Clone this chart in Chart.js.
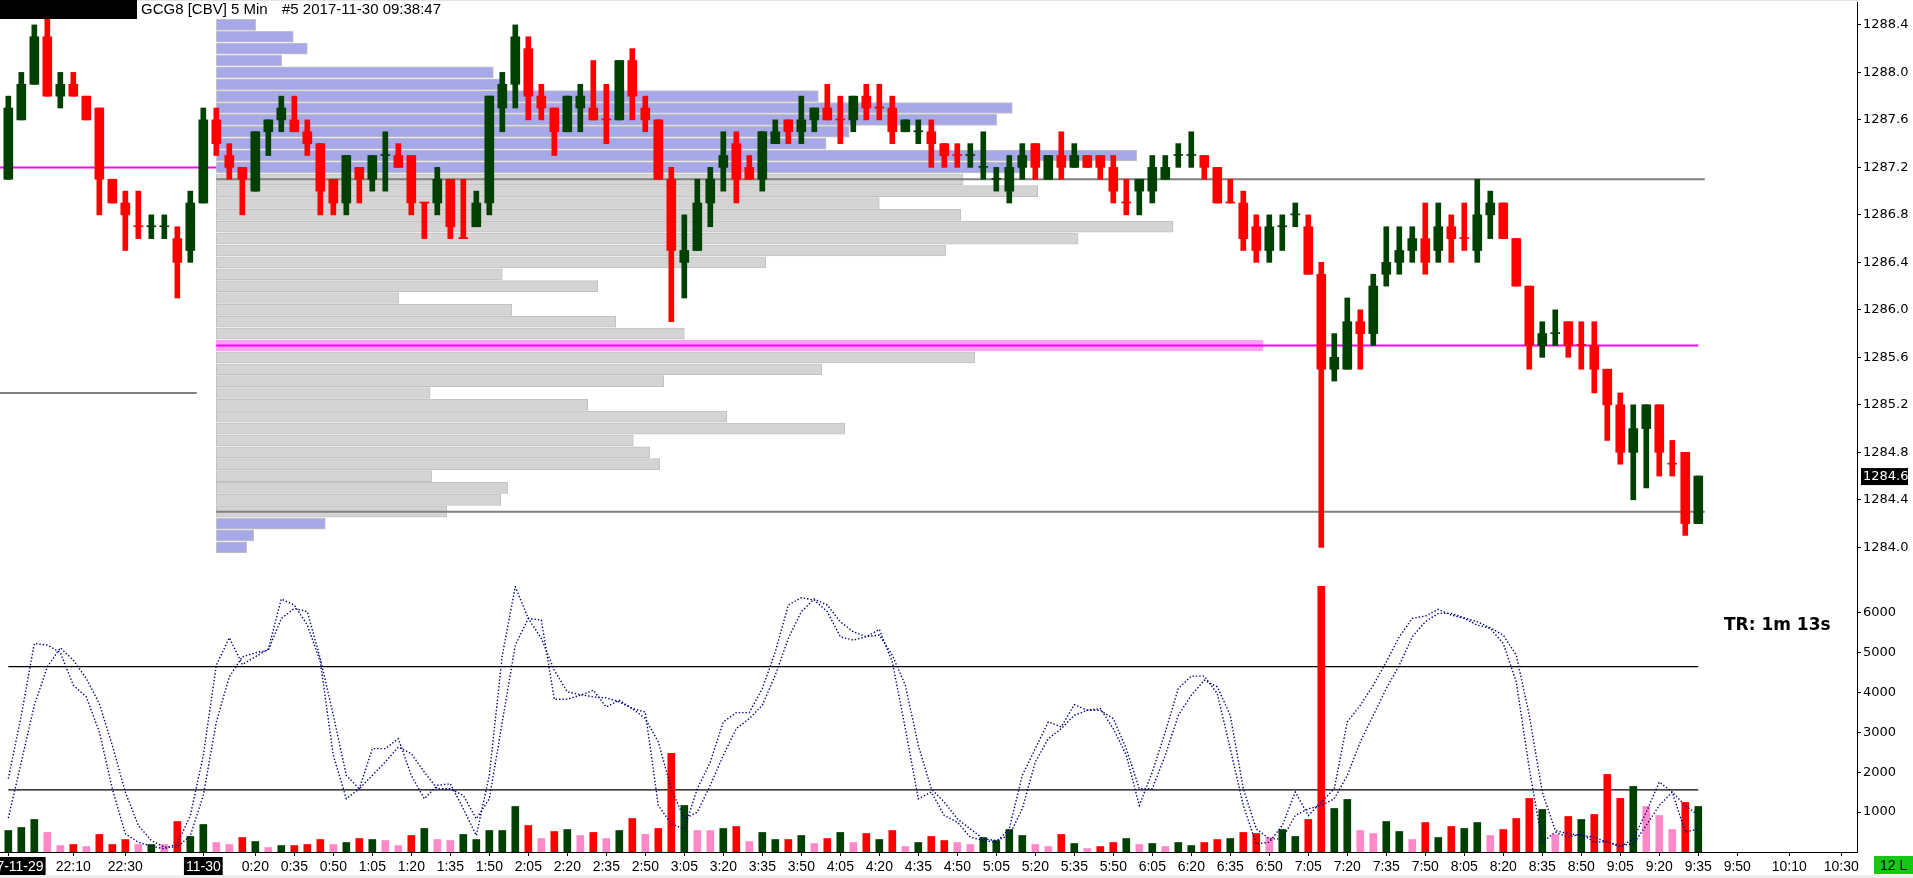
<!DOCTYPE html>
<html>
<head>
<meta charset="utf-8">
<title>GCG8 5 Min</title>
<script src="https://cdn.jsdelivr.net/npm/chart.js@4.4.1/dist/chart.umd.min.js"></script>
<style>
  html, body { margin: 0; padding: 0; background: #fff; }
  #wrap { position: relative; width: 1913px; height: 878px; }
</style>
</head>
<body>
<div id="wrap"><canvas id="gcChart" width="1913" height="878"></canvas></div>
<script>
// 5 minute slots (last session bars + empty slots to the right)
const times = [
  '21:45','21:50','21:55','22:00','22:05','22:10','22:15','22:20','22:25','22:30','22:35','22:40','22:45','22:50','22:55',
  '0:00','0:05','0:10','0:15','0:20','0:25','0:30','0:35','0:40','0:45','0:50','0:55',
  '1:00','1:05','1:10','1:15','1:20','1:25','1:30','1:35','1:40','1:45','1:50','1:55',
  '2:00','2:05','2:10','2:15','2:20','2:25','2:30','2:35','2:40','2:45','2:50','2:55',
  '3:00','3:05','3:10','3:15','3:20','3:25','3:30','3:35','3:40','3:45','3:50','3:55',
  '4:00','4:05','4:10','4:15','4:20','4:25','4:30','4:35','4:40','4:45','4:50','4:55',
  '5:00','5:05','5:10','5:15','5:20','5:25','5:30','5:35','5:40','5:45','5:50','5:55',
  '6:00','6:05','6:10','6:15','6:20','6:25','6:30','6:35','6:40','6:45','6:50','6:55',
  '7:00','7:05','7:10','7:15','7:20','7:25','7:30','7:35','7:40','7:45','7:50','7:55',
  '8:00','8:05','8:10','8:15','8:20','8:25','8:30','8:35','8:40','8:45','8:50','8:55',
  '9:00','9:05','9:10','9:15','9:20','9:25','9:30','9:35','9:40','9:45','9:50','9:55',
  '10:00','10:05','10:10','10:15','10:20','10:25','10:30'
];

const tickLabels = ['21:45','22:10','22:30','0:00','0:20','0:35','0:50','1:05','1:20','1:35','1:50',
  '2:05','2:20','2:35','2:50','3:05','3:20','3:35','3:50','4:05','4:20','4:35','4:50','5:05','5:20',
  '5:35','5:50','6:05','6:20','6:35','6:50','7:05','7:20','7:35','7:50','8:05','8:20','8:35','8:50',
  '9:05','9:20','9:35','9:50','10:10','10:30'];
const dateLabels = { '21:45': '2017-11-29', '0:00': '11-30' };

const priceTicks = [1284.0, 1284.4, 1284.8, 1285.2, 1285.6, 1286.0, 1286.4, 1286.8, 1287.2, 1287.6, 1288.0, 1288.4];
const volTicks = [1000, 2000, 3000, 4000, 5000, 6000];

const open = [
  1287.1,1287.6,1287.9,1288.3,1287.8,1287.9,1287.8,1287.7,1287.1,1286.9,
  1286.7,1286.7,1286.7,1286.6,1286.5,1286.9,1287.6,1287.3,1287.2,1287.0,
  1287.5,1287.6,1287.6,1287.5,1287.4,1287.1,1286.9,1287.2,1287.1,1287.3,
  1287.3,1287.3,1286.9,1286.9,1287.1,1286.6,1286.7,1286.9,1287.7,1287.9,
  1288.2,1287.8,1287.7,1287.5,1287.7,1287.7,1287.6,1287.6,1288.1,1287.7,
  1287.6,1287.1,1286.4,1286.5,1286.9,1287.2,1287.4,1287.2,1287.1,1287.4,
  1287.6,1287.5,1287.6,1287.7,1287.6,1287.6,1287.8,1287.7,1287.7,1287.5,
  1287.5,1287.5,1287.4,1287.3,1287.3,1287.2,1287.1,1287.0,1287.2,1287.4,
  1287.1,1287.3,1287.2,1287.3,1287.3,1287.2,1286.9,1287.0,1287.0,1287.1,
  1287.3,1287.3,1287.3,1287.2,1286.9,1286.9,1286.7,1286.5,1286.7,1286.8,
  1286.7,1286.3,1285.5,1285.5,1285.9,1285.8,1286.3,1286.4,1286.5,1286.6,
  1286.5,1286.7,1286.6,1286.5,1286.8,1286.9,1286.6,1286.2,1285.7,1285.8,
  1285.9,1285.7,1285.7,1285.5,1285.2,1284.8,1285.0,1285.2,1284.7,1284.8,
  1284.2];
const high = [
  1287.8,1288.0,1288.4,1288.5,1288.0,1288.0,1287.8,1287.7,1287.1,1287.0,
  1287.0,1286.8,1286.8,1286.7,1287.0,1287.7,1287.7,1287.4,1287.2,1287.5,
  1287.6,1287.8,1287.8,1287.6,1287.4,1287.1,1287.3,1287.2,1287.3,1287.5,
  1287.4,1287.3,1286.9,1287.2,1287.1,1287.1,1287.0,1287.8,1288.0,1288.4,
  1288.3,1287.9,1287.7,1287.8,1287.9,1288.1,1287.9,1288.1,1288.2,1287.8,
  1287.6,1287.2,1286.8,1287.1,1287.2,1287.5,1287.5,1287.3,1287.5,1287.6,
  1287.6,1287.8,1287.7,1287.9,1287.8,1287.8,1287.9,1287.9,1287.8,1287.6,
  1287.6,1287.6,1287.4,1287.4,1287.4,1287.5,1287.2,1287.3,1287.4,1287.4,
  1287.3,1287.5,1287.4,1287.3,1287.3,1287.3,1287.1,1287.1,1287.3,1287.3,
  1287.4,1287.5,1287.3,1287.2,1287.1,1287.0,1286.8,1286.8,1286.8,1286.9,
  1286.8,1286.4,1285.8,1286.1,1286.0,1286.3,1286.7,1286.7,1286.7,1286.9,
  1286.9,1286.8,1286.9,1287.1,1287.0,1286.9,1286.6,1286.2,1285.9,1286.0,
  1285.9,1285.9,1285.9,1285.5,1285.3,1285.2,1285.2,1285.2,1284.9,1284.8,
  1284.6];
const low = [
  1287.1,1287.6,1287.9,1287.8,1287.7,1287.8,1287.6,1286.8,1286.9,1286.5,
  1286.6,1286.6,1286.6,1286.1,1286.4,1286.9,1287.3,1287.1,1286.8,1287.0,
  1287.3,1287.5,1287.5,1287.3,1286.8,1286.8,1286.8,1286.9,1287.0,1287.0,
  1287.2,1286.8,1286.6,1286.8,1286.6,1286.6,1286.7,1286.8,1287.5,1287.7,
  1287.6,1287.6,1287.3,1287.5,1287.5,1287.6,1287.4,1287.6,1287.6,1287.5,
  1287.1,1285.9,1286.1,1286.5,1286.7,1287.0,1286.9,1287.1,1287.0,1287.4,
  1287.4,1287.4,1287.5,1287.6,1287.4,1287.5,1287.6,1287.6,1287.4,1287.5,
  1287.4,1287.2,1287.2,1287.2,1287.2,1287.1,1287.0,1286.9,1287.1,1287.1,
  1287.1,1287.1,1287.2,1287.2,1287.1,1286.9,1286.8,1286.8,1286.9,1287.1,
  1287.2,1287.2,1287.1,1286.9,1286.9,1286.5,1286.4,1286.4,1286.5,1286.7,
  1286.3,1284.0,1285.4,1285.5,1285.5,1285.7,1286.2,1286.3,1286.4,1286.3,
  1286.4,1286.4,1286.5,1286.4,1286.6,1286.6,1286.2,1285.5,1285.6,1285.7,
  1285.6,1285.5,1285.3,1284.9,1284.7,1284.4,1284.5,1284.6,1284.6,1284.1,
  1284.2];
const close = [
  1287.7,1287.9,1288.3,1287.8,1287.9,1287.8,1287.6,1287.1,1286.9,1286.8,
  1286.7,1286.7,1286.7,1286.4,1286.9,1287.6,1287.4,1287.2,1287.1,1287.5,
  1287.6,1287.7,1287.5,1287.4,1287.0,1286.9,1287.3,1287.1,1287.3,1287.3,
  1287.2,1286.9,1286.9,1287.1,1286.7,1286.6,1286.9,1287.8,1287.9,1288.3,
  1287.8,1287.7,1287.5,1287.8,1287.8,1287.6,1287.6,1288.1,1287.8,1287.6,
  1287.1,1286.5,1286.5,1286.9,1287.1,1287.3,1287.1,1287.1,1287.5,1287.5,
  1287.5,1287.6,1287.7,1287.6,1287.6,1287.8,1287.7,1287.7,1287.5,1287.6,
  1287.5,1287.4,1287.3,1287.3,1287.3,1287.2,1287.1,1287.2,1287.3,1287.2,
  1287.3,1287.2,1287.3,1287.2,1287.2,1287.0,1286.9,1287.1,1287.2,1287.2,
  1287.3,1287.3,1287.2,1286.9,1286.9,1286.6,1286.5,1286.7,1286.7,1286.8,
  1286.3,1285.5,1285.6,1285.9,1285.8,1286.2,1286.4,1286.5,1286.6,1286.4,
  1286.7,1286.6,1286.6,1286.8,1286.9,1286.6,1286.2,1285.7,1285.8,1285.8,
  1285.7,1285.7,1285.5,1285.2,1284.8,1285.0,1285.2,1284.8,1284.7,1284.2,
  1284.6];
// unchanged bars painted in the up colour
const upDoji = ['22:40','22:45','1:10','4:35','4:55','5:00','5:05','6:15','6:20','6:55','7:00','8:40'];

const volume = [
  539,615,816,490,162,188,137,440,188,313,188,188,188,765,389,690,238,188,363,263,
  112,162,162,188,313,188,238,338,313,288,162,414,590,313,288,440,313,539,539,1142,
  665,338,514,564,414,490,338,539,841,440,590,2474,1167,539,539,590,640,263,490,313,
  313,414,213,338,490,238,464,313,539,137,238,389,288,238,188,363,288,564,414,188,
  137,440,213,87,137,238,338,188,213,137,238,162,238,313,338,490,464,363,564,389,
  816,6670,1092,1318,539,464,765,514,313,740,363,640,590,740,414,564,841,1344,1067,440,
  891,816,941,1946,1344,1645,1142,916,564,1243,1142];
// g = up volume, r = down volume, p = light down volume
const volKind = [
  'g','g','g','p','p','r','p','r','r','r','p','g','p','r','g','g','p','p','r','g',
  'p','g','r','r','r','p','g','r','g','p','p','r','g','p','p','g','g','g','g','g',
  'r','p','r','g','p','r','p','g','r','p','r','r','g','p','p','g','r','p','g','g',
  'r','g','p','r','g','p','r','g','r','p','g','r','r','p','p','g','g','g','g','p',
  'p','r','g','p','r','r','g','p','g','p','g','g','r','r','g','r','r','p','g','g',
  'r','r','g','g','p','p','g','g','p','r','g','r','g','g','p','r','r','r','g','p',
  'r','g','r','r','r','g','p','p','p','r','g'];

// oscillator pair drawn in the volume region (same units as the volume scale)
const oscFast = [
  1838,3429,5229,5187,5003,4182,3889,3010,1586,456,246,146,79,204,916,2424,4685,5372,4702,4894,
  5087,6343,6192,5690,4769,2424,1335,1586,2591,2591,2842,1921,1335,1670,1712,1084,414,1921,4936,6653,
  5857,5816,3831,3831,3931,4057,3638,3806,3596,3512,1167,707,581,1586,2256,3261,3496,3496,4099,5020,
  6192,6377,6318,6025,5397,5313,5397,5581,4769,3094,1335,1502,916,749,372,288,246,581,1921,2591,
  3261,3136,3697,3554,3596,3094,2424,1167,2005,3010,4099,4409,4409,3973,2591,1167,204,246,665,1502,
  916,1251,1586,3261,3680,4182,4769,5397,5857,5916,6084,5941,5857,5690,5606,5229,4266,2089,246,497,
  372,456,246,263,121,330,1000,1754,1502,497,581];
const oscSlow = [
  849,2256,3680,4643,5120,4811,4350,3722,2675,1502,665,288,121,121,414,1419,3261,4392,4894,4995,
  5062,5857,6109,6025,4852,3429,1921,1586,1921,2256,2633,2466,2005,1586,1586,1419,832,1335,3261,5187,
  5857,5355,4559,4015,3948,3889,3864,3764,3596,3345,2759,1586,832,1000,1670,2424,3094,3345,3680,4434,
  5355,6025,6343,6192,5774,5522,5397,5439,4936,4182,2675,1586,1251,832,581,330,288,414,1084,2256,
  2842,3094,3429,3554,3554,3345,2591,1586,1586,2424,3429,3931,4308,4141,3429,1586,581,330,330,916,
  1084,1167,1335,1921,2759,3429,4099,4685,5397,5774,5983,5983,5874,5774,5623,5439,4936,3429,1502,539,
  456,414,372,246,163,204,665,1167,1502,1167,916];
const oscLevels = [4650, 1560];

// volume profile of the 11-30 session
const profPrices = [1288.4,1288.3,1288.2,1288.1,1288.0,1287.9,1287.8,1287.7,1287.6,1287.5,1287.4,1287.3,1287.2,
  1287.1,1287.0,1286.9,1286.8,1286.7,1286.6,1286.5,1286.4,1286.3,1286.2,1286.1,1286.0,1285.9,1285.8,1285.7,
  1285.6,1285.5,1285.4,1285.3,1285.2,1285.1,1285.0,1284.9,1284.8,1284.7,1284.6,1284.5,1284.4,1284.3,1284.2,1284.1,1284.0];
const profVol = [197,385,455,327,1385,1420,3010,3980,3902,3165,3049,4602,4020,3734,4107,3315,3722,4784,4309,3647,
  2747,1430,1907,912,1477,1997,2340,5234,3792,3027,2237,1069,1857,2552,3142,2085,2167,2217,1077,1457,1422,1152,545,187,152];
const session = { start: '0:05', poc: 1285.7, vah: 1287.1, val: 1284.3 };
const prevSession = { end: '0:05', valEnd: '22:55', poc: 1287.2, val: 1285.3 };

// ---------------------------------------------------------------
const UP = '#004000', DOWN = '#ff0000', PINK = '#ff88c8';
const nBars = close.length;
const lastBar = nBars - 1;
const X_MIN = -0.64, X_MAX = 142.21;
const startIdx = times.indexOf(session.start);
const PROF_UNITS = 65; // profile contracts per bar slot

const isUp = i => close[i] > open[i] || (close[i] === open[i] && upDoji.includes(times[i]));
const candleColors = close.map((c, i) => isUp(i) ? UP : DOWN);
const bars = close.map((c, i) => i);

const profColors = profPrices.map(p => {
  if (Math.abs(p - session.poc) < 0.001) return '#ffa0f8';
  if (p <= session.vah + 0.001 && p >= session.val - 0.001) return '#d4d4d4';
  return '#a6a8e8';
});
const profBorders = profColors.map(c => c === '#ffa0f8' ? '#ffa0f8' : '#c2c2c2');

const hline = (x0, x1, y) => [{ x: x0, y: y }, { x: x1, y: y }];
const lineDs = (data, color, width, axis, order) => ({
  type: 'line', data: data, yAxisID: axis, xAxisID: 'x',
  borderColor: color, borderWidth: width, pointRadius: 0, fill: false, tension: 0, order: order
});

const datasets = [
  // profile rows (behind everything)
  {
    type: 'bar', indexAxis: 'y', xAxisID: 'xp', yAxisID: 'y',
    data: profPrices.map((p, k) => ({ x: profVol[k], y: p })),
    backgroundColor: profColors, borderColor: profBorders, borderWidth: 1, borderSkipped: false,
    barThickness: 11, grouped: false, order: 20
  },
  lineDs(hline(startIdx, lastBar + 0.5, session.vah), '#808080', 2, 'y', 10),
  lineDs(hline(startIdx, lastBar + 0.5, session.val), '#808080', 2, 'y', 10),
  lineDs(hline(startIdx, lastBar, session.poc), '#ff00ff', 2, 'y', 10),
  lineDs(hline(X_MIN, times.indexOf(prevSession.end), prevSession.poc), '#ff00ff', 2, 'y', 10),
  lineDs(hline(X_MIN, times.indexOf(prevSession.valEnd) + 0.5, prevSession.val), '#808080', 2, 'y', 10),
  // candle wicks and bodies
  {
    type: 'bar', xAxisID: 'x', yAxisID: 'y',
    data: bars.map(i => ({ x: i, y: [low[i], high[i]] })),
    backgroundColor: candleColors, barThickness: 5, grouped: false, order: 3
  },
  {
    type: 'bar', xAxisID: 'x', yAxisID: 'y',
    data: bars.map(i => ({ x: i, y: [open[i], close[i]] })),
    backgroundColor: candleColors, barThickness: 9, minBarLength: 1, grouped: false, order: 2
  },
  // volume
  {
    type: 'bar', xAxisID: 'x', yAxisID: 'yv',
    data: volume.map((v, i) => ({ x: i, y: v })),
    backgroundColor: volKind.map(k => k === 'g' ? UP : (k === 'r' ? DOWN : PINK)),
    barThickness: 7, grouped: false, order: 4
  },
  lineDs(hline(0, lastBar, oscLevels[0]), '#000', 1.3, 'yv', 5),
  lineDs(hline(0, lastBar, oscLevels[1]), '#000', 1.3, 'yv', 5),
  Object.assign(lineDs(oscFast.map((v, i) => ({ x: i, y: v })), '#000080', 1.4, 'yv', 0), { borderDash: [1.4, 2] }),
  Object.assign(lineDs(oscSlow.map((v, i) => ({ x: i, y: v })), '#000080', 1.4, 'yv', 0), { borderDash: [1.4, 2] })
];

const isDateTick = ctx => !!(ctx.tick && dateLabels[times[ctx.tick.value]]);
const axisLine = { display: true, color: '#000', width: 1 };

const overlay = {
  id: 'overlay',
  afterDraw(chart) {
    const { ctx, chartArea, scales } = chart;
    ctx.save();
    ctx.fillStyle = '#e4e4e4';
    ctx.fillRect(0, 0, chartArea.right, 1);
    ctx.fillStyle = '#000';
    ctx.fillRect(0, 0, 137, 19);
    ctx.textBaseline = 'middle';
    ctx.font = '15px "Liberation Sans"';
    ctx.fillText('GCG8 [CBV]', 141, 10);
    ctx.fillText('5 Min', 231, 10);
    ctx.fillText('#5 2017-11-30 09:38:47', 282, 10);
    ctx.font = 'bold 17px "DejaVu Sans"';
    ctx.fillText('TR: 1m 13s', 1724, 626);
    const last = close[lastBar];
    const py = scales.y.getPixelForValue(last);
    ctx.fillRect(chartArea.right + 4, py - 8, 47, 17);
    ctx.fillStyle = '#fff';
    ctx.font = '13px "DejaVu Sans"';
    ctx.fillText(last.toFixed(1), chartArea.right + 6, py + 1);
    ctx.fillStyle = '#14c814';
    ctx.fillRect(1874, 856, 39, 18);
    ctx.fillStyle = '#000';
    ctx.font = '14px "Liberation Sans"';
    ctx.fillText('12 L', 1880, 866);
    ctx.fillStyle = '#eeeeee';
    ctx.fillRect(0, 875, 1913, 3);
    ctx.restore();
  }
};

new Chart(document.getElementById('gcChart'), {
  type: 'bar',
  data: { datasets: datasets },
  plugins: [overlay],
  options: {
    responsive: false,
    devicePixelRatio: 1,
    animation: false,
    events: [],
    layout: { padding: { top: 2, left: 0, right: 0, bottom: 0 }, autoPadding: false },
    plugins: { legend: { display: false }, tooltip: { enabled: false } },
    scales: {
      x: {
        type: 'linear', min: X_MIN, max: X_MAX, offset: false,
        afterBuildTicks: s => { s.ticks = tickLabels.map(t => ({ value: times.indexOf(t) })); },
        afterFit: s => { s.height = 26; s.paddingLeft = 0; s.paddingRight = 0; },
        ticks: {
          autoSkip: false, maxRotation: 0, padding: 3,
          font: { family: 'Liberation Sans', size: 14 },
          color: ctx => isDateTick(ctx) ? '#fff' : '#000',
          showLabelBackdrop: true,
          backdropColor: ctx => isDateTick(ctx) ? '#000' : 'rgba(0,0,0,0)',
          backdropPadding: { x: 2, y: 2 },
          callback: v => dateLabels[times[v]] || times[v]
        },
        grid: { drawOnChartArea: false, drawTicks: true, tickLength: 4, color: '#000', offset: false },
        border: axisLine
      },
      xp: {
        type: 'linear', axis: 'x', display: false, offset: false, beginAtZero: false,
        min: (X_MIN - startIdx) * PROF_UNITS, max: (X_MAX - startIdx) * PROF_UNITS,
        grid: { offset: false }
      },
      y: {
        type: 'linear', position: 'right', stack: 'pane', stackWeight: 584, offset: false, beginAtZero: false,
        min: 1283.674, max: 1288.593,
        afterBuildTicks: s => { s.ticks = priceTicks.map(v => ({ value: v })); },
        afterFit: s => { s.width = 56; s.paddingTop = 0; s.paddingBottom = 0; },
        ticks: { padding: 2, color: '#000', font: { family: 'DejaVu Sans', size: 13 }, callback: v => v.toFixed(1) },
        grid: { drawOnChartArea: false, drawTicks: true, tickLength: 4, color: '#000', offset: false },
        border: axisLine
      },
      yv: {
        type: 'linear', axis: 'y', position: 'right', stack: 'pane', stackWeight: 266, offset: false, beginAtZero: false,
        min: 0, max: 6670,
        afterBuildTicks: s => { s.ticks = volTicks.map(v => ({ value: v })); },
        afterFit: s => { s.width = 56; s.paddingTop = 0; s.paddingBottom = 0; },
        ticks: { padding: 2, color: '#000', font: { family: 'DejaVu Sans', size: 13 }, callback: v => String(v) },
        grid: { drawOnChartArea: false, drawTicks: true, tickLength: 4, color: '#000', offset: false },
        border: axisLine
      }
    }
  }
});
</script>
</body>
</html>
